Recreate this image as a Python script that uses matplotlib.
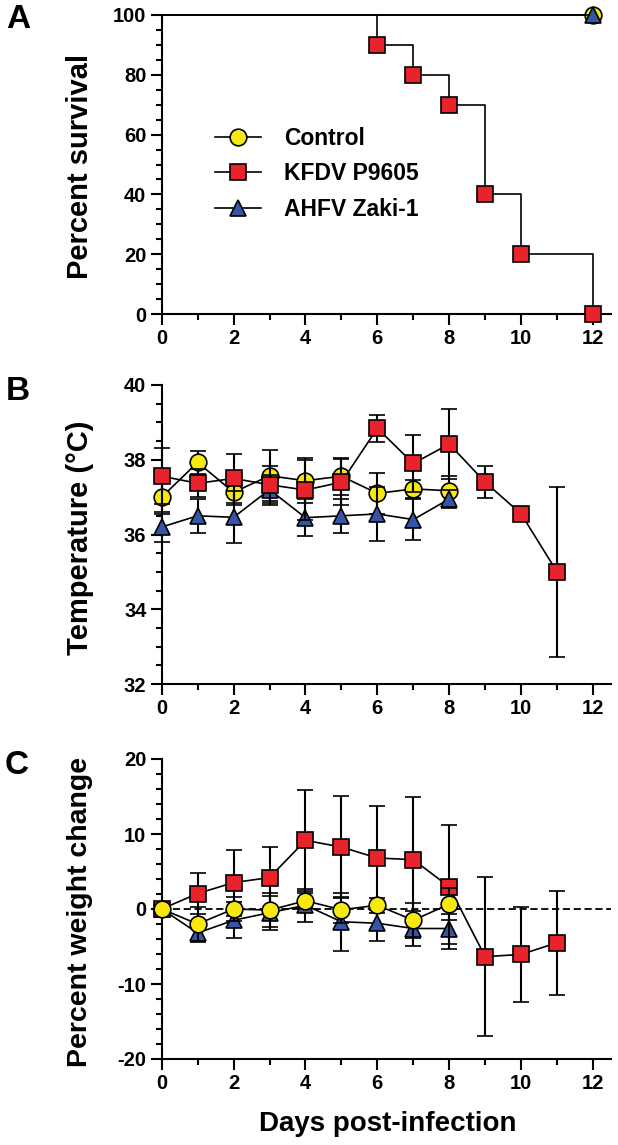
import matplotlib
matplotlib.use('Agg')
import matplotlib.pyplot as plt
from matplotlib.lines import Line2D
from matplotlib.ticker import MultipleLocator

plt.rcParams['font.family'] = 'Liberation Sans'
plt.rcParams['font.weight'] = 'bold'
plt.rcParams['axes.unicode_minus'] = False

# survival (panel A)
ctrl_surv_days = [0, 12]
ctrl_surv = [100, 100]
kfdv_surv_days = [0, 6, 7, 8, 9, 10, 12]
kfdv_surv = [100, 90, 80, 70, 40, 20, 0]
ahfv_surv_days = [0, 12]
ahfv_surv = [100, 100]

# temperature (panel B)
ctrl_days = [0, 1, 2, 3, 4, 5, 6, 7, 8]
kfdv_days = [0, 1, 2, 3, 4, 5, 6, 7, 8, 9, 10, 11]
ahfv_days = [0, 1, 2, 3, 4, 5, 6, 7, 8]
ctrl_temp = [37.0, 37.93, 37.13, 37.57, 37.44, 37.56, 37.1, 37.22, 37.17]
ctrl_temp_sd = [0.45, 0.3, 0.35, 0.68, 0.6, 0.5, 0.55, 0.25, 0.4]
kfdv_temp = [37.56, 37.37, 37.5, 37.33, 37.19, 37.4, 38.84, 37.9, 38.42, 37.4, 36.55, 35.0]
kfdv_temp_sd = [0.75, 0.38, 0.66, 0.5, 0.8, 0.62, 0.36, 0.75, 0.93, 0.43, 0.1, 2.27]
ahfv_temp = [36.2, 36.5, 36.46, 37.2, 36.45, 36.5, 36.55, 36.4, 36.95]
ahfv_temp_sd = [0.4, 0.45, 0.7, 0.4, 0.5, 0.45, 0.72, 0.55, 0.25]

# weight change (panel C)
ctrl_wt = [0, -2.0, 0, -0.15, 1.1, -0.1, 0.5, -1.5, 0.65]
ctrl_wt_sd = [0, 2.3, 1.6, 2.3, 1.0, 1.7, 1.0, 2.3, 2.15]
kfdv_wt = [0, 2.06, 3.52, 4.19, 9.15, 8.26, 6.8, 6.58, 2.95, -6.36, -6.05, -4.5]
kfdv_wt_sd = [0, 2.75, 4.4, 4.1, 6.75, 6.85, 6.9, 8.3, 8.25, 10.6, 6.3, 6.9]
ahfv_wt = [0, -3.2, -1.5, -0.5, 0.5, -1.7, -1.9, -2.6, -2.6]
ahfv_wt_sd = [0, 1.2, 2.4, 2.3, 2.2, 3.9, 2.3, 2.3, 2.0]

labels = ['Control', 'KFDV P9605', 'AHFV Zaki-1']
yellow = '#F7E80F'
red = '#E8232B'
blue = '#3655A6'

W, H = 618, 1145
fig = plt.figure(figsize=(W / 100, H / 100), dpi=100)


def axes_px(left, right, top, bottom):
    return fig.add_axes([left / W, 1 - bottom / H, (right - left) / W, (bottom - top) / H])


def style(ax):
    ax.spines['top'].set_visible(False)
    ax.spines['right'].set_visible(False)
    ax.spines['left'].set_linewidth(1.5)
    ax.spines['bottom'].set_linewidth(1.5)
    ax.set_xlim(0, 12.5)
    ax.xaxis.set_major_locator(MultipleLocator(2))
    ax.xaxis.set_minor_locator(MultipleLocator(1))
    ax.tick_params(which='major', length=8, width=1.5, labelsize=14.5, pad=3)
    ax.tick_params(which='minor', length=4, width=1.5)


axA = axes_px(161.7, 611, 15, 314)
axB = axes_px(161.7, 611, 385, 684)
axC = axes_px(161.7, 611, 759, 1059)

ms = 12
mew = 1.2
lw = 1.2

# Panel A
axA.plot(ctrl_surv_days, ctrl_surv, color='black', lw=lw, drawstyle='steps-post',
         marker='o', ms=ms, mfc=yellow, mec='black', mew=mew, markevery=[1], clip_on=False, zorder=3)
axA.plot(kfdv_surv_days, kfdv_surv, color='black', lw=lw, drawstyle='steps-post',
         marker='s', ms=ms, mfc=red, mec='black', mew=mew, markevery=slice(1, None), clip_on=False, zorder=3)
axA.plot(ahfv_surv_days, ahfv_surv, color='black', lw=lw, drawstyle='steps-post',
         marker='^', ms=ms, mfc=blue, mec='black', mew=mew, markevery=[1], clip_on=False, zorder=4)
axA.set_ylim(0, 100)
axA.yaxis.set_major_locator(MultipleLocator(20))
axA.yaxis.set_minor_locator(MultipleLocator(5))
style(axA)

handles = [
    Line2D([], [], color='black', lw=lw, marker='o', ms=ms, mfc=yellow, mec='black', mew=mew),
    Line2D([], [], color='black', lw=lw, marker='s', ms=ms, mfc=red, mec='black', mew=mew),
    Line2D([], [], color='black', lw=lw, marker='^', ms=ms, mfc=blue, mec='black', mew=mew),
]
axA.legend(handles, labels, loc='upper left', bbox_to_anchor=(0.094, 0.665), frameon=False,
           fontsize=16.5, handlelength=2.0, handletextpad=1.0, labelspacing=0.55, borderpad=0)

# Panel B
eb = dict(color='black', lw=lw, ms=ms, mec='black', mew=mew, capsize=6, capthick=1.5,
          elinewidth=1.5, clip_on=False)
axB.errorbar(ctrl_days, ctrl_temp, yerr=ctrl_temp_sd, marker='o', mfc=yellow, zorder=3, **eb)
axB.errorbar(ahfv_days, ahfv_temp, yerr=ahfv_temp_sd, marker='^', mfc=blue, zorder=4, **eb)
axB.errorbar(kfdv_days, kfdv_temp, yerr=kfdv_temp_sd, marker='s', mfc=red, zorder=5, **eb)
axB.set_ylim(32, 40)
axB.yaxis.set_major_locator(MultipleLocator(2))
axB.yaxis.set_minor_locator(MultipleLocator(0.5))
style(axB)

# Panel C
axC.axhline(0, color='black', lw=1.3, ls=(0, (4, 2)), zorder=2)
axC.errorbar(ahfv_days, ahfv_wt, yerr=ahfv_wt_sd, marker='^', mfc=blue, zorder=3, **eb)
axC.errorbar(kfdv_days, kfdv_wt, yerr=kfdv_wt_sd, marker='s', mfc=red, zorder=4, **eb)
axC.errorbar(ctrl_days, ctrl_wt, yerr=ctrl_wt_sd, marker='o', mfc=yellow, zorder=5, **eb)
axC.set_ylim(-20, 20)
axC.yaxis.set_major_locator(MultipleLocator(10))
axC.yaxis.set_minor_locator(MultipleLocator(2))
style(axC)

# labels
fig.text(80 / W, 1 - 166 / H, 'Percent survival', rotation=90, ha='center', va='center', fontsize=21)
fig.text(80 / W, 1 - 538 / H, 'Temperature (°C)', rotation=90, ha='center', va='center', fontsize=21)
fig.text(80 / W, 1 - 912 / H, 'Percent weight change', rotation=90, ha='center', va='center', fontsize=20.5)
fig.text(388 / W, 1 - 1124 / H, 'Days post-infection', ha='center', va='center', fontsize=20)

fig.text(18 / W, 1 - 20 / H, 'A', ha='center', va='center', fontsize=24)
fig.text(18 / W, 1 - 392 / H, 'B', ha='center', va='center', fontsize=24)
fig.text(17 / W, 1 - 766 / H, 'C', ha='center', va='center', fontsize=24)

fig.savefig('out.png', dpi=100)
